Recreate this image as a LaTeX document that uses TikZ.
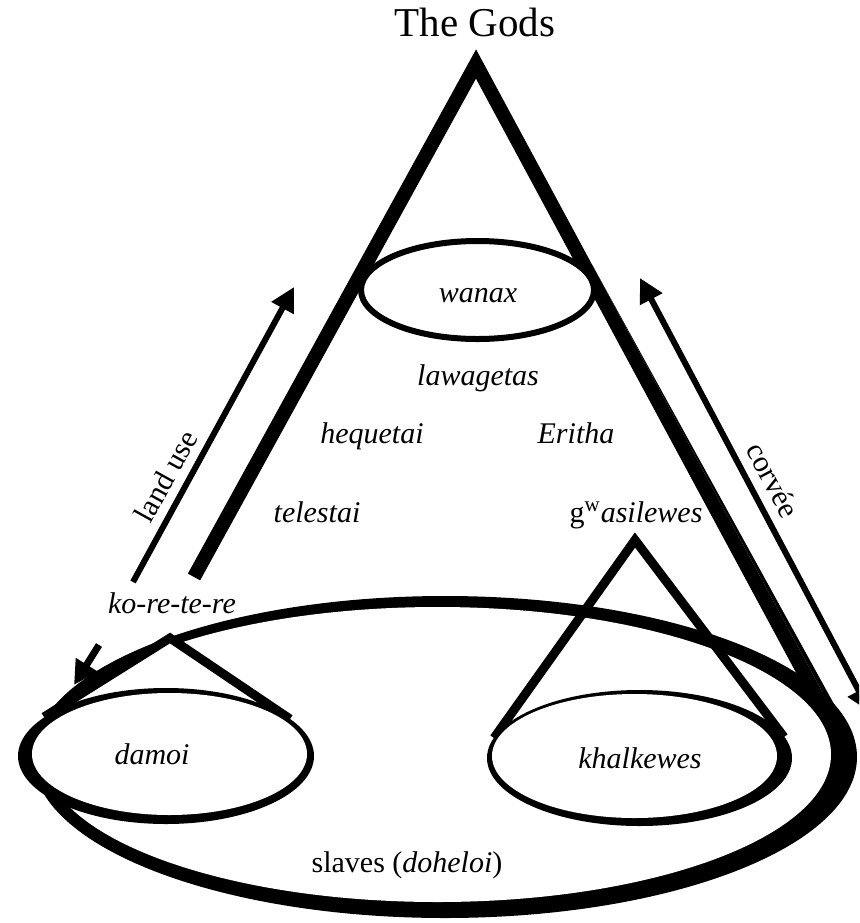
\documentclass[tikz,border=0pt]{standalone}
\usepackage{fontspec}
\setmainfont{Liberation Serif}
\usetikzlibrary{arrows.meta}

\begin{document}
\begin{tikzpicture}[x=0.5pt,y=-0.5pt,
  lbl/.style={font=\itshape\fontsize{15}{18}\selectfont, inner sep=0pt, anchor=base},
  plain/.style={font=\fontsize{15}{18}\selectfont, inner sep=0pt, anchor=base},
  >={Triangle[length=12pt,width=12pt]},
  flow/.style={->, line width=3pt}]

  % Parameters
  \def\bigw{7pt}        % width of the big cone
  \def\smallw{4.5pt}    % width of the small cones

  \clip (0,0) rectangle (859,923);
  \fill[white] (0,0) rectangle (859,923);

  % Corners of the cones
  \coordinate (apex) at (476,64);
  \coordinate (bigL) at (194,577);
  \coordinate (bigR) at (843,745);
  \coordinate (gapex) at (635,540);
  \coordinate (gL) at (494,738);
  \coordinate (gR) at (784,737);
  \coordinate (dapex) at (170,638);
  \coordinate (dL) at (44,717);
  \coordinate (dR) at (290,719);

  % Ring of the slaves
  \fill (445,757) ellipse (412 and 161);
  \fill[white] (437.5,754.5) ellipse (393.5 and 147.5);

  % Big cone (right side grows thicker downwards)
  \draw[line width=\bigw, miter limit=20] (bigL) -- (apex) -- (bigR);
  \fill (592.3,265) -- (849.2,741.7) -- (853.5,739.4) -- cycle;
  \draw[line width=3pt, fill=white] (477.5,290) ellipse (116.5 and 49);

  % Cone over the khalkewes
  \draw[line width=\smallw, miter limit=20] (gL) -- (gapex) -- (gR);
  \fill (639.5,758) ellipse (152.5 and 68);
  \fill[white] (634.5,756) ellipse (142.5 and 62);

  % Cone over the damoi
  \fill[white] (dapex) -- (dL) -- (dR) -- cycle;
  \draw[line width=\smallw, miter limit=20] (dL) -- (dapex) -- (dR);
  \fill (166,756) ellipse (148 and 68);
  \fill[white] (169.5,754) ellipse (137.5 and 61);

  % Arrows
  \coordinate (landA) at (133,582);
  \coordinate (landB) at (294,287);
  \coordinate (corvA) at (640,278);
  \coordinate (corvB) at (870,712);
  \coordinate (koA) at (99,645);
  \coordinate (koB) at (74,685);
  \draw[flow] (landA) -- (landB);
  \draw[flow, <->] (corvB) -- (corvA);
  \draw[->, line width=3.5pt] (koA) -- (koB);

  % Labels
  \node[plain, font=\fontsize{20.5}{24}\selectfont] (gods) at (475,36) {The Gods};
  \node[lbl] (wanax) at (478,302) {wanax};
  \node[lbl] (lawagetas) at (478,385) {lawagetas};
  \node[lbl] (hequetai) at (372,443) {hequetai};
  \node[lbl] (eritha) at (576,443) {Eritha};
  \node[lbl] (telestai) at (317,522) {telestai};
  \node[lbl] (basileus) at (636,522) {\textup{g\textsuperscript{w}}asilewes};
  \node[lbl] (korete) at (172,613) {ko-re-te-re};
  \node[lbl] (damoi) at (152,764) {damoi};
  \node[lbl] (khalkewes) at (640,768) {khalkewes};
  \node[plain] (slaves) at (407,872) {slaves (\textit{doheloi})};
  \node[plain, anchor=center, rotate=61] (landuse) at (166,476) {land use};
  \node[plain, anchor=center, rotate=-62] (corvee) at (773,480) {corvée};
\end{tikzpicture}
\end{document}
